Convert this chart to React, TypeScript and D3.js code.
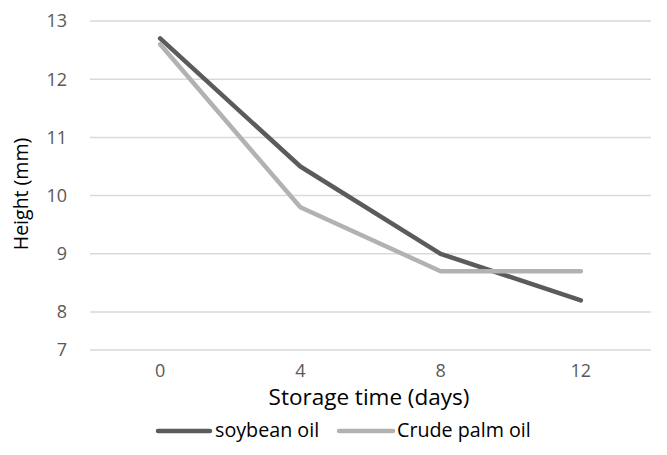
import React from "react";
import * as d3 from "d3";

const categories = ["0", "4", "8", "12"];
const soybean = [12.7, 10.5, 9.0, 8.2];
const palm = [12.6, 9.8, 8.7, 8.7];
const yTicks = [7, 8, 9, 10, 11, 12, 13];
const seriesNames = ["soybean oil", "Crude palm oil"];

const W = 667;
const H = 455;
const FONT = "'Open Sans', sans-serif";

export default function App() {
  const x = d3.scaleBand<string>().domain(categories).range([90, 651]);
  // axis in the reference is compressed between 7 and 8
  const y = d3.scaleLinear().domain([7, 8, 13]).range([350, 312, 21]);
  const cx = (c: string) => (x(c) as number) + x.bandwidth() / 2;
  const line = d3
    .line<number>()
    .x((_, i) => cx(categories[i]))
    .y((d) => y(d));
  const series = [
    { name: seriesNames[0], values: soybean, color: "#5b5b5b" },
    { name: seriesNames[1], values: palm, color: "#b2b2b2" },
  ];
  const legend = [
    { x1: 158, x2: 210, tx: 215 },
    { x1: 339, x2: 393, tx: 397 },
  ];
  return (
    <svg width={W} height={H} style={{ position: "absolute", left: 0, top: 0, background: "#fff" }}>
      <rect width={W} height={H} fill="#fff" />
      {yTicks.map((t) => (
        <g key={t}>
          <line x1={90} x2={651} y1={y(t)} y2={y(t)} stroke="#d9d9d9" strokeWidth={1.5} />
          <text x={67} y={y(t)} dy="0.35em" textAnchor="end" fontFamily={FONT} fontSize={18} fill="#595959">
            {t}
          </text>
        </g>
      ))}
      {categories.map((c) => (
        <text key={c} x={cx(c)} y={377} textAnchor="middle" fontFamily={FONT} fontSize={18} fill="#595959">
          {c}
        </text>
      ))}
      {series.map((s) => (
        <path key={s.name} d={line(s.values) as string} fill="none" stroke={s.color} strokeWidth={4.5} strokeLinecap="round" strokeLinejoin="round" />
      ))}
      <text x={369} y={405} textAnchor="middle" fontFamily={FONT} fontSize={22.5} fill="#000">
        Storage time (days)
      </text>
      <text transform={`translate(28,194) rotate(-90)`} textAnchor="middle" fontFamily={FONT} fontSize={19.5} fill="#000">
        Height (mm)
      </text>
      {series.map((s, i) => (
        <g key={s.name}>
          <line x1={legend[i].x1} x2={legend[i].x2} y1={431} y2={431} stroke={s.color} strokeWidth={4.5} strokeLinecap="round" />
          <text x={legend[i].tx} y={437} fontFamily={FONT} fontSize={19.7} fill="#000">
            {s.name}
          </text>
        </g>
      ))}
    </svg>
  );
}
